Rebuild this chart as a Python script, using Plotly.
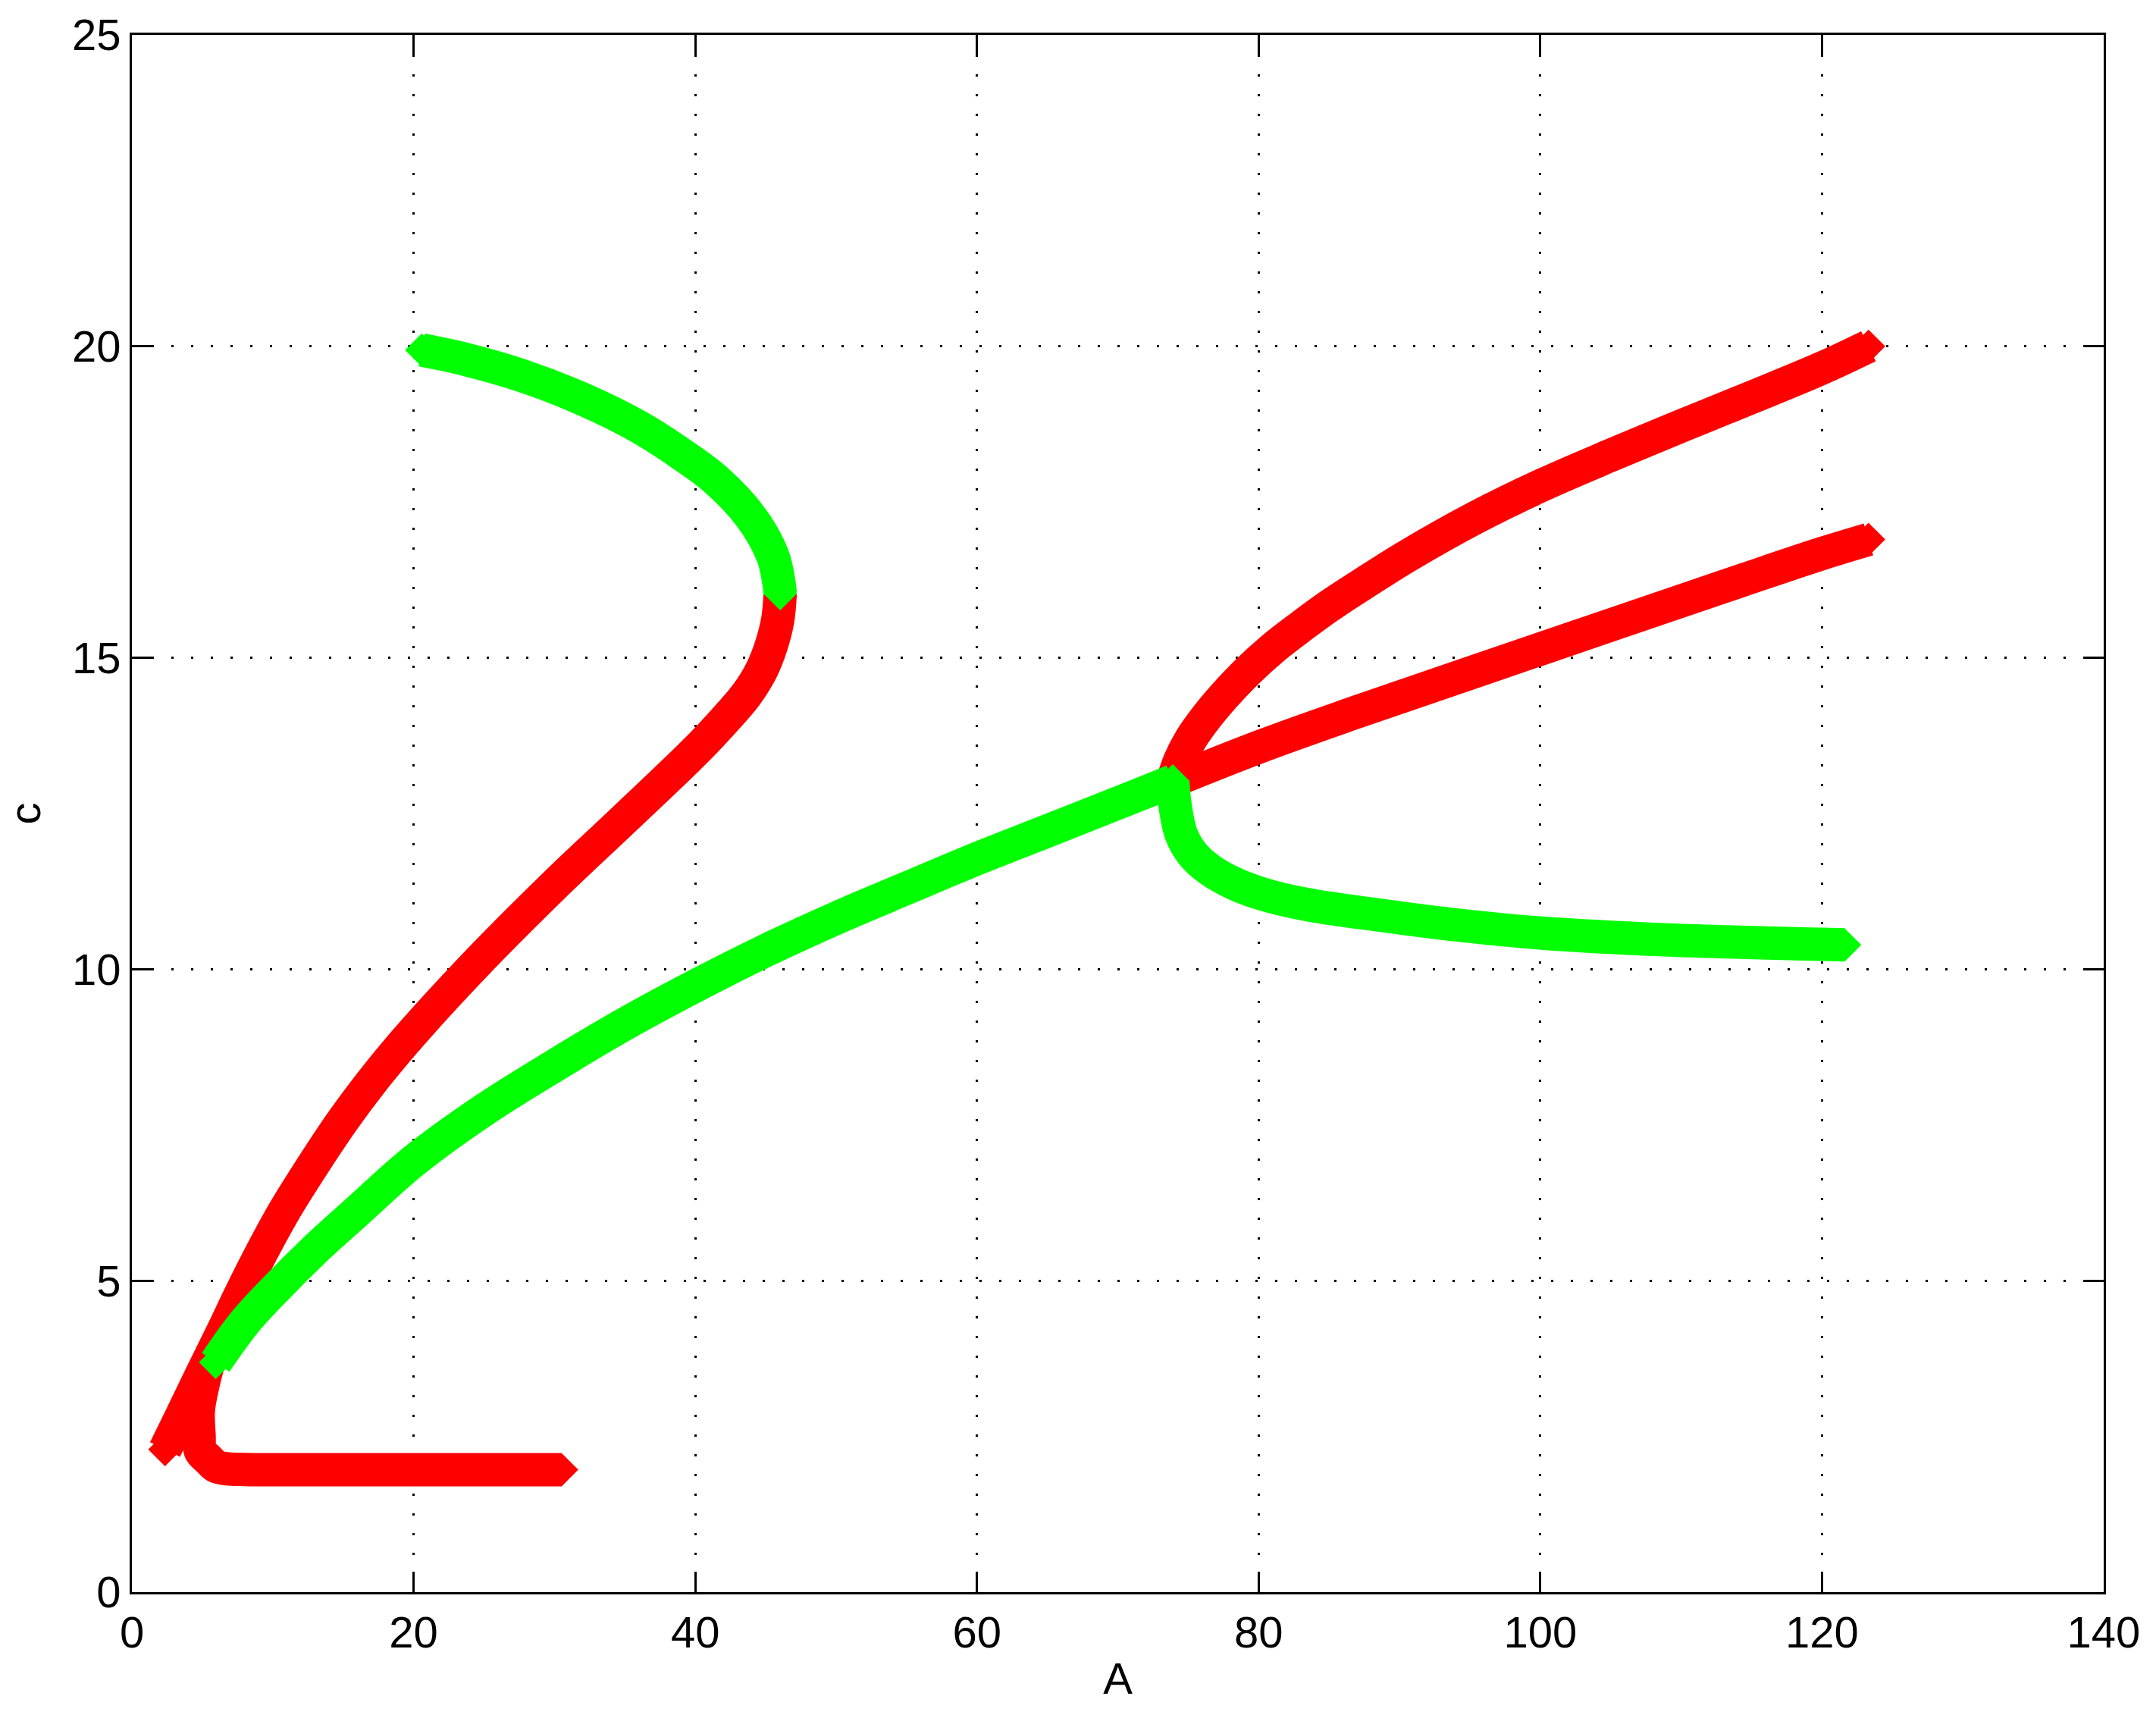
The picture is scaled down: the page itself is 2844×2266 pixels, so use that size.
import plotly.graph_objects as go

# ---- data (A on x, c on y) ----
# red S-shaped branch, from the fold down to the lower-left end
red_s_x = [46.03, 45.85, 45.4, 44.7, 43.6, 42.0, 40.0, 35.0, 30.0, 25.0, 20.0,
           17.5, 15.0, 12.5, 10.77, 9.2, 7.68, 6.5, 5.0, 3.5, 2.35]
red_s_y = [16.03, 15.6, 15.2, 14.8, 14.4, 13.98, 13.5, 12.42, 11.35, 10.22, 9.0,
           8.33, 7.58, 6.73, 6.1, 5.45, 4.77, 4.21, 3.52, 2.82, 2.29]

# red low branch (flat part near c~2, bending upward near A~5)
red_l_x = [30.5, 25, 20, 15, 10, 8, 6.78, 5.96, 5.44, 4.86, 4.77, 4.72, 5.17, 5.6]
red_l_y = [1.965, 1.965, 1.965, 1.965, 1.965, 1.97, 1.98, 2.02, 2.13, 2.27, 2.52, 2.92, 3.45, 3.8]

# red upper branch after the crossing at A~74
red_u_x = [73.9, 74.4, 75.2, 76.3, 77.6, 79.2, 81.0, 83.0, 85.0, 87.5, 90.6, 95.4,
           100.1, 105.0, 110.0, 115.0, 120.1, 123.3]
red_u_y = [13.02, 13.35, 13.7, 14.05, 14.4, 14.78, 15.15, 15.5, 15.83, 16.2, 16.64, 17.25,
           17.77, 18.25, 18.72, 19.18, 19.66, 20.0]

# red nearly straight branch after the crossing
red_t_x = [73.9, 80.4, 86.58, 100.0, 114.4, 120.1, 123.3]
red_t_y = [13.02, 13.6, 14.1, 15.14, 16.25, 16.68, 16.9]

# green arc above the fold
green_a_x = [46.03, 45.93, 45.51, 44.01, 41.50, 39.14, 36.05, 31.93, 27.82, 23.70, 20.58]
green_a_y = [16.03, 16.22, 16.63, 17.24, 17.85, 18.25, 18.70, 19.16, 19.52, 19.79, 19.94]

# green lower branch up to the crossing
green_l_x = [5.95, 8, 10.2, 13, 15.88, 20, 25, 30, 35, 40, 45, 50, 55, 60.06, 65, 71.37, 73.9]
green_l_y = [3.69, 4.33, 4.87, 5.5, 6.09, 6.92, 7.74, 8.45, 9.12, 9.73, 10.3, 10.82, 11.3,
             11.78, 12.22, 12.79, 13.02]

# green branch after the crossing, going down
green_r_x = [73.9, 74.1, 74.5, 75.31, 76.52, 78.23, 80.09, 83.38, 88.53, 93.68, 100.1,
             109.1, 120.1, 121.6]
green_r_y = [13.02, 12.58, 12.17, 11.85, 11.60, 11.38, 11.22, 11.04, 10.87, 10.72, 10.58,
             10.47, 10.40, 10.39]

x_ticks = [0, 20, 40, 60, 80, 100, 120, 140]
y_ticks = [0, 5, 10, 15, 20, 25]

RED = "#FF0000"
GREEN = "#00FF00"
LINE_W = 44
END_SIZE = 34


def branch(xs, ys, color):
    n = len(xs)
    sizes = [END_SIZE if i in (0, n - 1) else 0 for i in range(n)]
    return go.Scatter(
        x=xs, y=ys, mode="lines+markers",
        line=dict(color=color, width=LINE_W, shape="spline", smoothing=1.0),
        marker=dict(symbol="diamond", size=sizes, color=color, opacity=1,
                    line=dict(width=0)),
        hoverinfo="skip", showlegend=False,
    )


fig = go.Figure()
for xs, ys in [(red_s_x, red_s_y), (red_l_x, red_l_y), (red_u_x, red_u_y), (red_t_x, red_t_y)]:
    fig.add_trace(branch(xs, ys, RED))
for xs, ys in [(green_a_x, green_a_y), (green_l_x, green_l_y), (green_r_x, green_r_y)]:
    fig.add_trace(branch(xs, ys, GREEN))

font = dict(family="Liberation Sans, Arial, Helvetica, sans-serif", size=58, color="black")
axis_common = dict(
    showline=True, linewidth=3, linecolor="black", mirror="ticks",
    ticks="inside", ticklen=27, tickwidth=3, tickcolor="black",
    showgrid=True, gridcolor="black", gridwidth=3, griddash="3px,23px",
    zeroline=False, tickfont=font,
)
fig.update_xaxes(range=[0, 140], tickvals=x_ticks, ticktext=[str(v) for v in x_ticks],
                 title=dict(text="A", font=font, standoff=10), **axis_common)
fig.update_yaxes(range=[0, 25], tickvals=y_ticks, ticktext=[str(v) for v in y_ticks],
                 title=dict(text="c", font=font, standoff=30), **axis_common)

fig.update_layout(
    width=2844, height=2266,
    margin=dict(l=174, r=69, t=46, b=166, pad=0),
    plot_bgcolor="white", paper_bgcolor="white",
    font=font,
)

fig.write_html("out.html", config={"displayModeBar": False},
               post_script="document.body.style.margin='0';")
